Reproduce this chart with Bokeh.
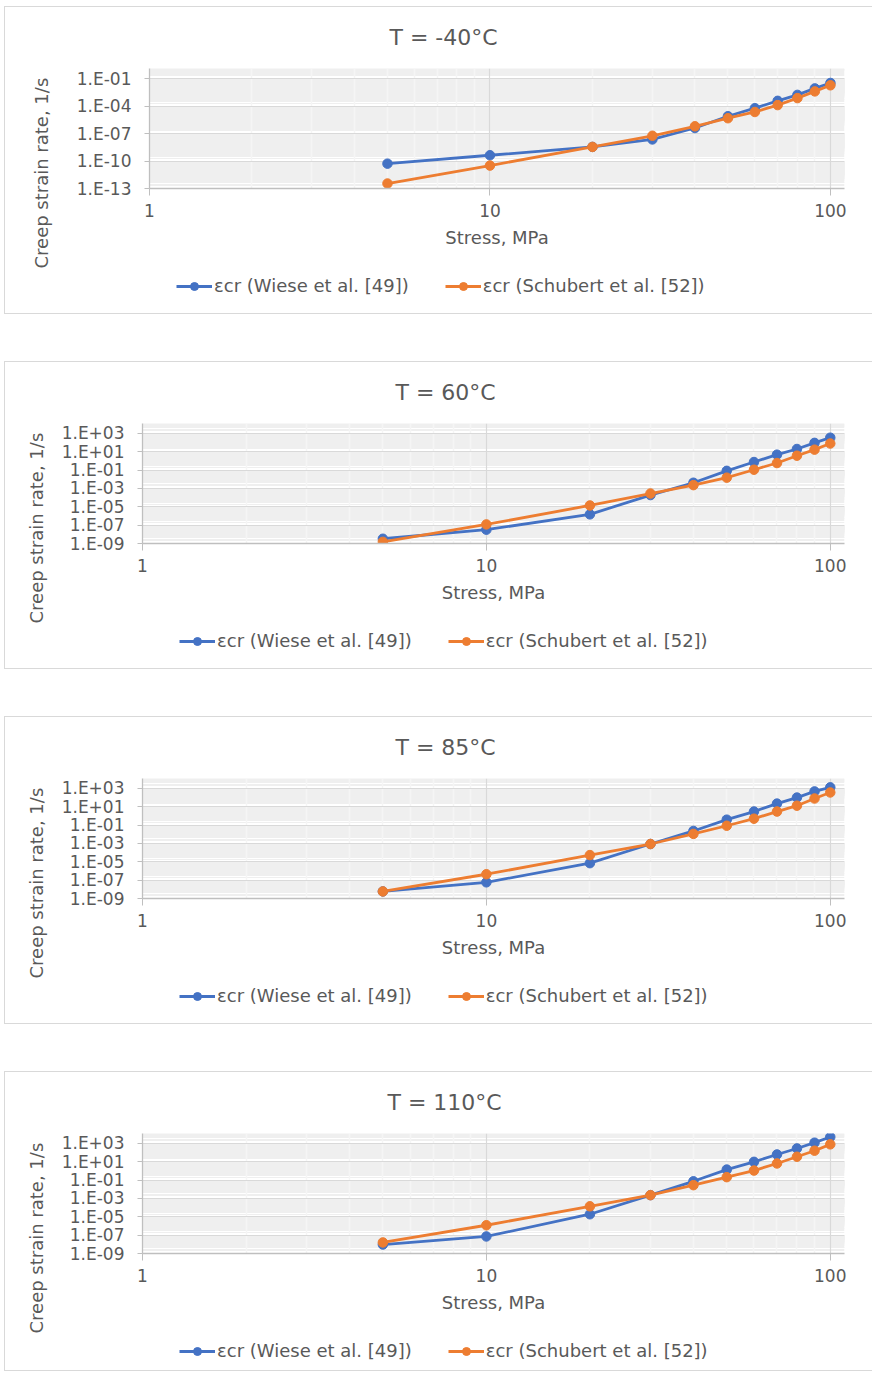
from bokeh.plotting import figure
from bokeh.models import (FixedTicker, Grid, Legend, LegendItem, Title,
                          CustomJSTickFormatter, Range1d)
from bokeh.layouts import column
from bokeh.embed import file_html
from bokeh.resources import INLINE

# ---------------- data ----------------
stress = [5, 10, 20, 30, 40, 50, 60, 70, 80, 90, 100]

titles = ["T = -40\u00b0C", "T = 60\u00b0C", "T = 85\u00b0C", "T = 110\u00b0C"]

wiese_m40 = [5.2e-11, 4.3e-10, 3.5e-09, 2.3e-08, 4.1e-07, 7.9e-06, 6.0e-05, 3.8e-04, 1.7e-03, 8.7e-03, 3.4e-02]
schubert_m40 = [3.5e-13, 3.2e-11, 3.5e-09, 5.8e-08, 6.3e-07, 4.8e-06, 2.3e-05, 1.3e-04, 7.6e-04, 4.1e-03, 1.9e-02]

wiese_60 = [3.3e-09, 3.2e-08, 1.5e-06, 1.9e-04, 4.2e-03, 8.3e-02, 7.6e-01, 4.8e+00, 2.0e+01, 9.3e+01, 3.4e+02]
schubert_60 = [1.5e-09, 1.2e-07, 1.4e-05, 2.8e-04, 2.3e-03, 1.5e-02, 1.1e-01, 5.9e-01, 3.7e+00, 1.7e+01, 7.9e+01]

wiese_85 = [5.9e-09, 5.8e-08, 7.1e-06, 8.7e-04, 2.3e-02, 3.9e-01, 3.0e+00, 2.2e+01, 1.0e+02, 4.7e+02, 1.3e+03]
schubert_85 = [5.9e-09, 4.4e-07, 5.4e-05, 8.7e-04, 1.1e-02, 8.5e-02, 5.0e-01, 3.0e+00, 1.3e+01, 7.9e+01, 3.6e+02]

wiese_110 = [9.5e-09, 7.2e-08, 1.9e-05, 2.3e-03, 7.4e-02, 1.4e+00, 9.8e+00, 6.2e+01, 2.8e+02, 1.2e+03, 5.0e+03]
schubert_110 = [1.6e-08, 1.2e-06, 1.4e-04, 2.3e-03, 2.8e-02, 2.1e-01, 1.1e+00, 6.5e+00, 3.5e+01, 1.6e+02, 7.9e+02]

wiese_series = [wiese_m40, wiese_60, wiese_85, wiese_110]
schubert_series = [schubert_m40, schubert_60, schubert_85, schubert_110]

# y axis major ticks (Excel log base 1000 / 100) per panel
y_majors_1 = [1e-13, 1e-10, 1e-07, 1e-04, 1e-01]
y_majors_2 = [1e-09, 1e-07, 1e-05, 1e-03, 1e-01, 1e+01, 1e+03]
y_majors = [y_majors_1, y_majors_2, y_majors_2, y_majors_2]
y_bases = [1000, 100, 100, 100]
y_ranges = [(1e-13, 1.3e0), (1e-09, 1.2e4), (1e-09, 1.2e4), (1e-09, 1.2e4)]

x_majors = [1, 10, 100]
x_minors = [2, 3, 4, 5, 6, 7, 8, 9, 20, 30, 40, 50, 60, 70, 80, 90]
x_range = (1, 110)

labels = ["\u03b5cr (Wiese et al. [49])", "\u03b5cr (Schubert et al. [52])"]
x_title = "Stress, MPa"
y_title = "Creep strain rate, 1/s"

# ---------------- style / layout ----------------
FONT = "DejaVu Sans"
TXT = "#595959"
BLUE = "#4472C4"
ORANGE = "#ED7D31"
W = 868
MAIN_H = 262
FOOT_H = [44, 44, 44, 36]
FRAME_LEFT = [144, 137, 137, 137]
TITLE_OFFSET = [240, 253, 253, 245]
YTITLE_STANDOFF = [44, 24, 24, 24]
LEGEND_X = [27, 37, 37, 37]

fmt_x = CustomJSTickFormatter(code="return Math.round(tick).toString();")
fmt_y = CustomJSTickFormatter(code="""
const e = Math.round(Math.log10(tick));
const s = Math.abs(e).toString().padStart(2, "0");
return "1.E" + (e < 0 ? "-" : "+") + s;
""")


def make_main(i):
    majors = y_majors[i]
    base = y_bases[i]
    minors = []
    for m in majors:
        for k in range(2, base):
            v = m * k
            if v <= y_ranges[i][1]:
                minors.append(v)
    yticker = FixedTicker(ticks=majors, minor_ticks=minors)
    xticker = FixedTicker(ticks=x_majors, minor_ticks=x_minors)

    p = figure(width=W, height=MAIN_H, x_axis_type="log", y_axis_type="log",
               x_range=Range1d(*x_range), y_range=Range1d(*y_ranges[i]),
               output_backend="svg", toolbar_location=None, title=titles[i],
               min_border_left=FRAME_LEFT[i], min_border_right=29,
               min_border_top=61, min_border_bottom=MAIN_H - 61 - 120)
    p.outline_line_color = None
    p.grid.visible = False

    p.add_layout(Grid(dimension=1, ticker=yticker, grid_line_color=None,
                      minor_grid_line_color="#efefef", minor_grid_line_width=1), "center")
    p.add_layout(Grid(dimension=0, ticker=xticker, grid_line_color=None,
                      minor_grid_line_color="#f5f5f5", minor_grid_line_width=1.5), "center")
    p.add_layout(Grid(dimension=1, ticker=yticker, grid_line_color="#d9d9d9",
                      grid_line_width=1.2), "center")
    p.add_layout(Grid(dimension=0, ticker=xticker, grid_line_color="#d9d9d9",
                      grid_line_width=1.2), "center")

    p.xaxis.ticker = FixedTicker(ticks=x_majors)
    p.yaxis.ticker = FixedTicker(ticks=majors)
    p.xaxis.formatter = fmt_x
    p.yaxis.formatter = fmt_y
    for ax in (p.xaxis[0], p.yaxis[0]):
        ax.axis_line_color = "#bfbfbf"
        ax.axis_line_width = 1.3
        ax.major_tick_line_color = "#bfbfbf"
        ax.major_tick_in = 0
        ax.minor_tick_line_color = None
        ax.major_label_text_font = FONT
        ax.major_label_text_font_size = "17px"
        ax.major_label_text_color = TXT
        ax.axis_label_text_font = FONT
        ax.axis_label_text_font_size = "18px"
        ax.axis_label_text_font_style = "normal"
        ax.axis_label_text_color = TXT
    p.xaxis.major_tick_out = 7
    p.yaxis.major_tick_out = 5
    p.xaxis.major_label_standoff = 8
    p.yaxis.major_label_standoff = 13
    p.xaxis.axis_label = x_title
    p.xaxis.axis_label_standoff = 7

    p.title.align = "left"
    p.title.offset = TITLE_OFFSET[i]
    p.title.vertical_align = "top"
    p.title.standoff = 34
    p.title.text_font = FONT
    p.title.text_font_size = "22px"
    p.title.text_font_style = "normal"
    p.title.text_color = TXT

    p.add_layout(Title(text=y_title, align="left", offset=-80, text_font=FONT,
                       text_font_size="18px", text_font_style="normal",
                       text_color=TXT, standoff=YTITLE_STANDOFF[i]), "left")

    p.line(stress, wiese_series[i], line_color=BLUE, line_width=2.8)
    p.scatter(stress, wiese_series[i], size=9.5, fill_color=BLUE, line_color=BLUE)
    p.line(stress, schubert_series[i], line_color=ORANGE, line_width=2.8)
    p.scatter(stress, schubert_series[i], size=9.5, fill_color=ORANGE, line_color=ORANGE)
    return p


def make_footer(i):
    f = figure(width=W, height=FOOT_H[i], x_range=Range1d(0, 1), y_range=Range1d(0, 1),
               x_axis_location=None, y_axis_location=None, min_border=0,
               output_backend="svg", toolbar_location=None)
    f.outline_line_color = None
    f.grid.visible = False
    # renderers only feed the legend (data lies outside this frame)
    lw = f.line(stress, wiese_series[i], line_color=BLUE, line_width=2.8)
    sw = f.scatter(stress, wiese_series[i], size=9.5, fill_color=BLUE, line_color=BLUE)
    lo = f.line(stress, schubert_series[i], line_color=ORANGE, line_width=2.8)
    so = f.scatter(stress, schubert_series[i], size=9.5, fill_color=ORANGE, line_color=ORANGE)
    legend = Legend(items=[LegendItem(label=labels[0], renderers=[lw, sw]),
                           LegendItem(label=labels[1], renderers=[lo, so])],
                    orientation="horizontal", location=(LEGEND_X[i], FOOT_H[i] - 27),
                    label_text_font=FONT, label_text_font_size="18px",
                    label_text_color=TXT, glyph_width=36, glyph_height=20,
                    label_standoff=2, spacing=36, padding=0, margin=0,
                    border_line_color=None, background_fill_alpha=0)
    f.add_layout(legend, "center")
    return f


boxes = []
for i in range(4):
    box = column(make_main(i), make_footer(i), spacing=0)
    box.styles = {"border": "1px solid #d9d9d9", "border-right": "none"}
    boxes.append(box)

layout = column(*boxes, spacing=47)
layout.styles = {"margin-top": "6px", "margin-left": "4px"}

open("out.html", "w").write(file_html(layout, INLINE))
